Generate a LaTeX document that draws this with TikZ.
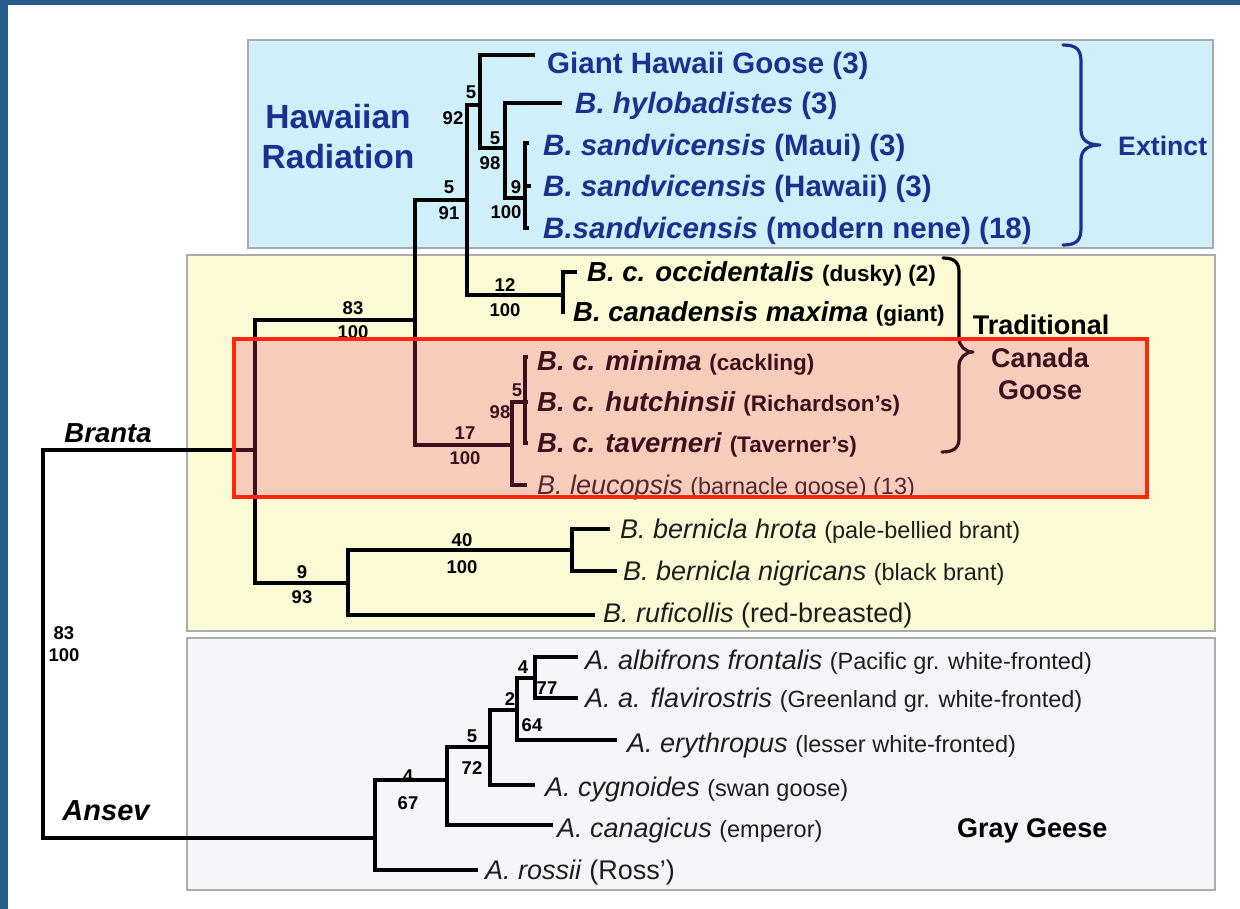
\documentclass[tikz,border=0pt]{standalone}
\usepackage{fontspec}
\setmainfont{Liberation Sans}
\newcommand{\myfs}[1]{\fontsize{#1pt}{#1pt}\selectfont}
\newcommand{\parsm}[1]{{\myfs{23.5}#1}}
\newcommand{\parcan}[1]{{\myfs{22.5}\bfseries #1}}
\definecolor{frameblue}{RGB}{38,92,142}
\definecolor{hawfill}{RGB}{207,239,250}
\definecolor{yelfill}{RGB}{250,250,212}
\definecolor{grayfill}{RGB}{245,244,249}
\definecolor{boxline}{RGB}{170,170,176}
\definecolor{hawtext}{RGB}{28,48,145}
\definecolor{txtdark}{RGB}{30,30,30}
\definecolor{overlaypink}{RGB}{242,70,116}
\definecolor{redline}{RGB}{255,40,10}
\begin{document}
\begin{tikzpicture}[x=1pt,y=-1pt,
  tree/.style={line width=3.5pt, line join=miter, line cap=butt, black},
  boxst/.style={draw=boxline, line width=1.5pt},
  hawL/.style={font={\myfs{29.5}\bfseries}, text=hawtext, anchor=base west, inner sep=0pt},
  canL/.style={font={\myfs{27.5}\bfseries}, text=black, anchor=base west, inner sep=0pt},
  spL/.style={font={\myfs{27}}, text=txtdark, anchor=base west, inner sep=0pt},
  num/.style={font={\myfs{18.5}\bfseries}, text=black, inner sep=0pt},
  grp/.style={font={\myfs{27}\bfseries}, text=black, anchor=base, inner sep=0pt},
  brace/.style={line width=3.2pt, line cap=round, line join=round}
]
\useasboundingbox (0,0) rectangle (1240,909);
\fill[white] (0,0) rectangle (1240,909);
\fill[frameblue] (0,0) rectangle (1240,5);
\fill[frameblue] (0,0) rectangle (8,909);

% group boxes
\draw[boxst, fill=hawfill] (248,40) rectangle (1213,248);
\draw[boxst, fill=yelfill] (187,255) rectangle (1215,631);
\draw[boxst, fill=grayfill] (187,638) rectangle (1215,890);

% internal nodes
\coordinate (root) at (43,644);
\coordinate (bra) at (255,450);
\coordinate (ans) at (375,838);
\coordinate (n1) at (415,320);
\coordinate (n2) at (467,200);
\coordinate (n3) at (480,105);
\coordinate (n4) at (505,148);
\coordinate (n4b) at (525,198);
\coordinate (n5) at (563,295);
\coordinate (n6) at (512,445);
\coordinate (n7) at (525,402);
\coordinate (n8) at (348,583);
\coordinate (n9) at (572,550);
\coordinate (a1) at (447,780);
\coordinate (a2) at (490,747);
\coordinate (a3) at (517,710);
\coordinate (a4) at (535,678);
% leaf tips
\coordinate (t-ghg) at (535,55);
\coordinate (t-hylo) at (562,103);
\coordinate (t-maui) at (529,143);
\coordinate (t-hawaii) at (531,186);
\coordinate (t-nene) at (529,228);
\coordinate (t-occ) at (577,272);
\coordinate (t-max) at (565,312);
\coordinate (t-min) at (528,357);
\coordinate (t-hut) at (528,402);
\coordinate (t-tav) at (528,443);
\coordinate (t-leu) at (527,485);
\coordinate (t-hro) at (610,529);
\coordinate (t-nig) at (617,571);
\coordinate (t-ruf) at (595,615);
\coordinate (t-alb) at (578,657);
\coordinate (t-fla) at (578,698);
\coordinate (t-ery) at (617,740);
\coordinate (t-cyg) at (535,785);
\coordinate (t-can) at (553,825);
\coordinate (t-ros) at (478,870);

% branches
\draw[tree] (root) |- (bra);
\draw[tree] (root) |- (ans);
\draw[tree] (bra) |- (n1);
\draw[tree] (bra) |- (n8);
\draw[tree] (n1) |- (n2);
\draw[tree] (n1) |- (n6);
\draw[tree] (n2) |- (n3);
\draw[tree] (n2) |- (n5);
\draw[tree] (n3) |- (t-ghg);
\draw[tree] (n3) |- (n4);
\draw[tree] (n4) |- (t-hylo);
\draw[tree] (n4) |- (n4b);
\draw[tree] (n4b) |- (t-maui);
\draw[tree] (n4b) |- (t-hawaii);
\draw[tree] (n4b) |- (t-nene);
\draw[tree] (n5) |- (t-occ);
\draw[tree] (n5) |- (t-max);
\draw[tree] (n6) |- (n7);
\draw[tree] (n6) |- (t-leu);
\draw[tree] (n7) |- (t-min);
\draw[tree] (n7) |- (t-hut);
\draw[tree] (n7) |- (t-tav);
\draw[tree] (n8) |- (n9);
\draw[tree] (n8) |- (t-ruf);
\draw[tree] (n9) |- (t-hro);
\draw[tree] (n9) |- (t-nig);
\draw[tree] (ans) |- (a1);
\draw[tree] (ans) |- (t-ros);
\draw[tree] (a1) |- (a2);
\draw[tree] (a1) |- (t-can);
\draw[tree] (a2) |- (a3);
\draw[tree] (a2) |- (t-cyg);
\draw[tree] (a3) |- (a4);
\draw[tree] (a3) |- (t-ery);
\draw[tree] (a4) |- (t-alb);
\draw[tree] (a4) |- (t-fla);

% branch support labels
\node[num] (l-r1) at (64,633) {83};
\node[num] (l-r2) at (64,655) {100};
\node[num] (l-b1) at (353,308) {83};
\node[num] (l-b2) at (353,332) {100};
\node[num] (l-h1) at (449,187) {5};
\node[num] (l-h2) at (449,213) {91};
\node[num] (l-h3) at (471,92) {5};
\node[num] (l-h4) at (453,118) {92};
\node[num] (l-h5) at (495,138) {5};
\node[num] (l-h6) at (490,163) {98};
\node[num] (l-h7) at (516,187) {9};
\node[num] (l-h8) at (506,212) {100};
\node[num] (l-c1) at (505,285) {12};
\node[num] (l-c2) at (505,310) {100};
\node[num] (l-c3) at (465,433) {17};
\node[num] (l-c4) at (465,458) {100};
\node[num] (l-c5) at (517,390) {5};
\node[num] (l-c6) at (500,412) {98};
\node[num] (l-k1) at (302,572) {9};
\node[num] (l-k2) at (302,597) {93};
\node[num] (l-k3) at (462,540) {40};
\node[num] (l-k4) at (462,567) {100};
\node[num] (l-a1) at (408,776) {4};
\node[num] (l-a2) at (408,803) {67};
\node[num] (l-a3) at (472,736) {5};
\node[num] (l-a4) at (472,768) {72};
\node[num] (l-a5) at (510,699) {2};
\node[num] (l-a6) at (532,725) {64};
\node[num] (l-a7) at (523,667) {4};
\node[num] (l-a8) at (547,688) {77};

% clade names
\node[font={\myfs{27.5}\bfseries\itshape}, anchor=base, inner sep=0pt] (branta) at (108,442.7) {Branta};
\node[font={\myfs{29}\bfseries\itshape}, anchor=base, inner sep=0pt] (ansev) at (106,820) {Ansev};

% Hawaiian leaves
\node[hawL] (L-ghg) at (547,73.6) {Giant Hawaii Goose (3)};
\node[hawL] (L-hylo) at (575,113.6) {\itshape B. hylobadistes\/\upshape{} (3)};
\node[hawL] (L-maui) at (543,155.6) {\itshape B. sandvicensis\/\upshape{} (Maui) (3)};
\node[hawL] (L-hawaii) at (543,196.6) {\itshape B. sandvicensis\/\upshape{} (Hawaii) (3)};
\node[hawL] (L-nene) at (543,238.6) {\itshape B.sandvicensis\/\upshape{} (modern nene) (18)};
\node[font={\myfs{33.5}\bfseries}, text=hawtext, anchor=base, inner sep=0pt] (hw1) at (338,129) {Hawaiian};
\node[font={\myfs{33.5}\bfseries}, text=hawtext, anchor=base, inner sep=0pt] (hw2) at (338,169) {Radiation};
\node[font={\myfs{26.7}\bfseries}, text=hawtext, anchor=base west, inner sep=0pt] (extinct) at (1118,155.6) {Extinct};
\draw[brace, hawtext] (1063,45) .. controls (1077,45) and (1081,50) .. (1081,62) -- (1081,130) .. controls (1081,140) and (1088,145) .. (1100,145) .. controls (1088,145) and (1081,150) .. (1081,160) -- (1081,228) .. controls (1081,240) and (1077,245) .. (1063,245);

% Canada leaves
\node[canL] (L-occ) at (587,281.8) {\itshape B. c. occidentalis\/\upshape{} \parcan{(dusky) (2)}};
\node[canL] (L-max) at (573,321.8) {\itshape B. canadensis maxima\/\upshape{} \parcan{(giant)}};
\node[canL] (L-min) at (537,370.8) {\itshape B. c. minima\/\upshape{} \parcan{(cackling)}};
\node[canL] (L-hut) at (537,411.8) {\itshape B. c. hutchinsii\/\upshape{} \parcan{(Richardson's)}};
\node[canL] (L-tav) at (537,452.8) {\itshape B. c. taverneri\/\upshape{} \parcan{(Taverner's)}};
\node[spL] (L-leu) at (537,494.7) {\itshape B. leucopsis\/\upshape{} \parsm{(barnacle goose) (13)}};
\draw[brace, black] (943,258) .. controls (955,258) and (959,263) .. (959,272) -- (959,338) .. controls (959,346) and (965,352) .. (973,352) .. controls (965,352) and (959,358) .. (959,366) -- (959,438) .. controls (959,447) and (955,452) .. (942,452);
\node[grp] (tc1) at (1041,334.7) {Traditional};
\node[grp] (tc2) at (1040,367.7) {Canada};
\node[grp] (tc3) at (1040,399.7) {Goose};

% Brant leaves
\node[spL] (L-hro) at (620,538.7) {\itshape B. bernicla hrota\/\upshape{} \parsm{(pale-bellied brant)}};
\node[spL] (L-nig) at (623,580.7) {\itshape B. bernicla nigricans\/\upshape{} \parsm{(black brant)}};
\node[spL] (L-ruf) at (603,622.7) {\itshape B. ruficollis\/\upshape{} (red-breasted)};

% Anser leaves
\node[spL] (L-alb) at (585,669.7) {\itshape A. albifrons frontalis\/\upshape{} \parsm{(Pacific gr. white-fronted)}};
\node[spL] (L-fla) at (585,707.7) {\itshape A. a. flavirostris\/\upshape{} \parsm{(Greenland gr. white-fronted)}};
\node[spL] (L-ery) at (627,752.7) {\itshape A. erythropus\/\upshape{} \parsm{(lesser white-fronted)}};
\node[spL] (L-cyg) at (545,796.7) {\itshape A. cygnoides\/\upshape{} \parsm{(swan goose)}};
\node[spL] (L-can) at (557,837.7) {\itshape A. canagicus\/\upshape{} \parsm{(emperor)}};
\node[spL] (L-ros) at (485,879.7) {\itshape A. rossii\/\upshape{} (Ross')};
\node[grp, anchor=base west] (gray) at (957,837.7) {Gray Geese};

% highlight overlay
\fill[overlaypink, fill opacity=0.25] (234,339) rectangle (1147,497);
\draw[redline, line width=4pt] (234,339) rectangle (1147,497);
\end{tikzpicture}
\end{document}
